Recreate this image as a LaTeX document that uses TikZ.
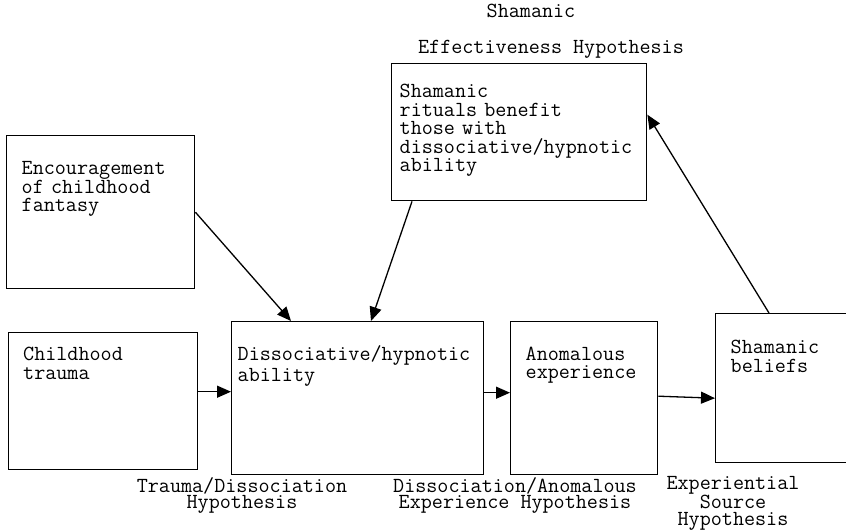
\documentclass[tikz,border=0pt]{standalone}
\usepackage{fontspec}
\usepackage{tikz}
\usetikzlibrary{arrows.meta, positioning}
\tikzset{
  block/.style={rectangle, draw, line width=1.4pt, anchor=north west,
    align=left, inner ysep=0pt,
    font=\ttfamily\fontsize{21.5pt}{18.5pt}\selectfont},
  hyplabel/.style={align=center, anchor=base, inner sep=0pt,
    font=\ttfamily\fontsize{21.5pt}{16.7pt}\selectfont},
  arrow/.style={-{Triangle[length=14pt, width=12pt]}, line width=1.3pt},
}

\begin{document}
\begin{tikzpicture}[x=1pt, y=-1pt]
  \useasboundingbox (0,0) rectangle (846,532);
  % boxes
  \node[block, text width=158pt, inner xsep=15pt, text height=39pt, text depth=114pt]
    (fantasy) at (6,135) {Encouragement\\of childhood\\fantasy};
  \node[block, text width=239pt, inner xsep=8pt, text height=34pt, text depth=103pt]
    (rituals) at (391,63) {Shamanic\\rituals benefit\\those with\\dissociative/hypnotic\\ability};
  \node[block, text width=160pt, inner xsep=14.5pt, text height=28pt, text depth=109pt]
    (trauma) at (8,332) {Childhood\\trauma};
  \node[block, text width=240pt, inner xsep=6pt, text height=39pt, text depth=114pt,
    font=\ttfamily\fontsize{21.5pt}{20.5pt}\selectfont]
    (dissoc) at (231,321) {Dissociative/hypnotic\\ability};
  \node[block, text width=117pt, inner xsep=15pt, text height=39pt, text depth=114pt,
    font=\ttfamily\fontsize{21.5pt}{17.5pt}\selectfont]
    (anomal) at (510,321) {Anomalous\\experience};
  \node[block, text width=103pt, inner xsep=15pt, text height=40pt, text depth=109pt]
    (beliefs) at (715,313) {Shamanic\\beliefs};

  % hypothesis labels (anchored on the baseline of the last line)
  \node[hyplabel, font=\ttfamily\fontsize{21.5pt}{36pt}\selectfont]
    (effect) at (551,54) {Shamanic\hspace*{40pt}\\Effectiveness Hypothesis};
  \node[hyplabel] (trauhyp) at (242,508.7) {Trauma/Dissociation\\Hypothesis};
  \node[hyplabel] (anomhyp) at (515,508.7) {Dissociation/Anomalous\\Experience Hypothesis};
  \node[hyplabel] (sourcehyp) at (733,525.4) {Experiential\\Source\hspace*{19pt}\\Hypothesis};

  % connectors
  \draw[arrow] (fantasy.east) -- ([xshift=60pt]dissoc.north west);
  \draw[arrow] ([xshift=21pt]rituals.south west) -- ([xshift=140pt]dissoc.north west);
  \draw[arrow] ([yshift=9.5pt]trauma.east) -- ([yshift=6.5pt]dissoc.west);
  \draw[arrow] ([yshift=5.5pt]dissoc.east) -- ([yshift=5.5pt]anomal.west);
  \draw[arrow] ([yshift=2pt]anomal.east) -- ([yshift=-10pt]beliefs.west);
  \draw[arrow] ([xshift=54pt]beliefs.north west) -- ([yshift=17.5pt]rituals.east);
\end{tikzpicture}
\end{document}
